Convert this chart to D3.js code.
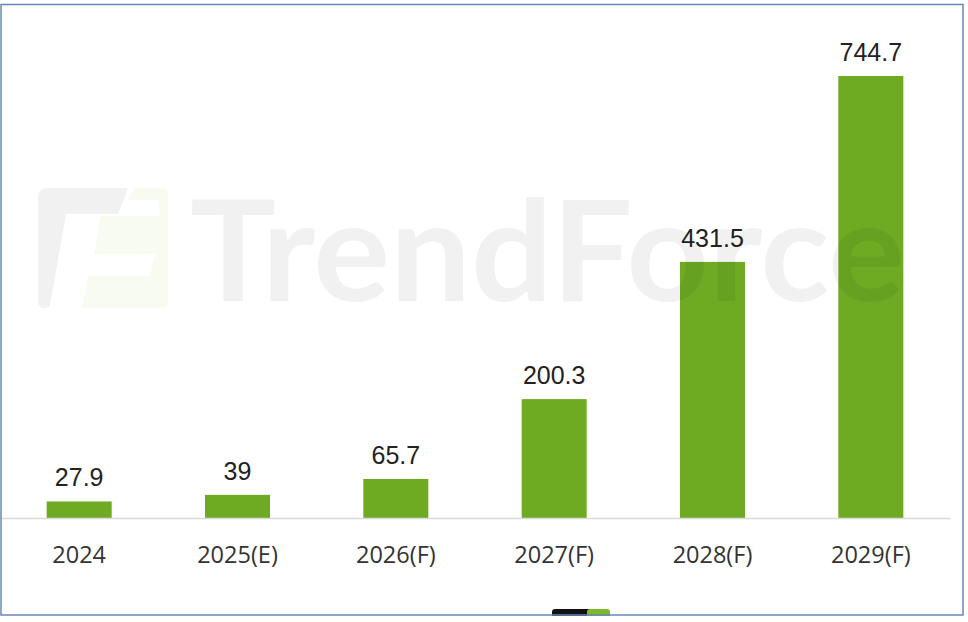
<!DOCTYPE html>
<html><head><meta charset="utf-8">
<script src="https://cdn.jsdelivr.net/npm/d3@7"></script>
<style>body{margin:0;background:#fff}svg{display:block}</style>
</head><body><svg id="c" width="968" height="622"></svg>
<script>
const categories = ["2024","2025(E)","2026(F)","2027(F)","2028(F)","2029(F)"];
const values = [27.9, 39, 65.7, 200.3, 431.5, 744.7];
const valueLabels = ["27.9","39","65.7","200.3","431.5","744.7"];

const svg = d3.select("#c");
const baseY = 518;
const x = d3.scaleBand().domain(categories).range([0, 950]).padding(0);
const y = d3.scaleLinear().domain([0, 744.7]).range([baseY, 76]);
const barW = 65;

// bars
svg.append("g").selectAll("rect").data(values).join("rect")
  .attr("x", (d,i) => x(categories[i]) + x.bandwidth()/2 - barW/2)
  .attr("y", d => y(d))
  .attr("width", barW)
  .attr("height", d => baseY - y(d))
  .attr("fill", "#6eab23");

// axis line
const axis = svg.append("g").attr("transform", `translate(0,${baseY})`)
  .call(d3.axisBottom(x).tickSize(0).tickPadding(28));
axis.select(".domain").attr("stroke", "#d9d9d9").attr("stroke-width", 1.5);
axis.selectAll("text").attr("font-family", "'Open Sans', 'Noto Sans', sans-serif")
  .attr("font-size", 23.5).attr("fill", "#333").attr("dy", "0.71em");

// value labels
svg.append("g").selectAll("text").data(values).join("text")
  .attr("x", (d,i) => x(categories[i]) + x.bandwidth()/2)
  .attr("y", d => y(d) - 15)
  .attr("text-anchor", "middle")
  .attr("font-family", "'Liberation Sans', Arial, sans-serif")
  .attr("font-size", 25).attr("fill", "#222")
  .text((d,i) => valueLabels[i]);

// watermark
const wm = svg.append("g").attr("opacity", 0.05);
wm.append("path").attr("d", "M48,188 L128,188 L118,214 L66,214 L50,305 Q48,308 44,308 L42,308 Q38,306 38,300 L38,198 Q38,188 48,188 Z").attr("fill", "#000");
wm.append("path").attr("d", "M135,188 L160,188 Q168,188 168,196 L168,300 Q168,308 160,308 L82,308 L88,276 L150,276 L155,254 L94,254 L101,216 L160,216 L158,200 L128,200 Z").attr("fill", "#8fc31f");
wm.append("text").attr("x", 190).attr("y", 301)
  .attr("font-family", "Lato, 'Open Sans', sans-serif").attr("font-weight", 700)
  .attr("font-size", 140).attr("textLength", 715).attr("lengthAdjust", "spacingAndGlyphs")
  .attr("fill", "#000").text("TrendForce");

// bottom fragment
svg.append("rect").attr("x", 552).attr("y", 609).attr("width", 40).attr("height", 10).attr("rx", 3).attr("fill", "#111");
svg.append("rect").attr("x", 587).attr("y", 609).attr("width", 23).attr("height", 10).attr("rx", 3).attr("fill", "#7cba2a");

// border
svg.append("rect").attr("x", 1).attr("y", 4.5).attr("width", 962).attr("height", 610.5)
  .attr("fill", "none").attr("stroke", "#6a86b6").attr("stroke-width", 1.5);
svg.append("rect").attr("x", 0).attr("y", 616).attr("width", 968).attr("height", 6).attr("fill", "#fff");
</script></body></html>
